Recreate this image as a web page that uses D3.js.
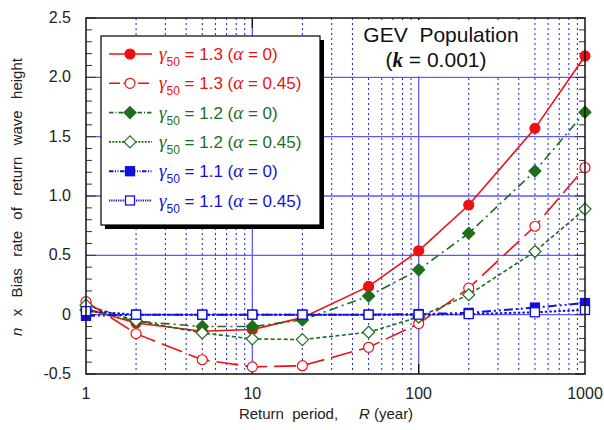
<!DOCTYPE html>
<html>
<head>
<meta charset="utf-8">
<script src="https://cdn.jsdelivr.net/npm/d3@7"></script>
<style>
  body { margin: 0; background: #fff; }
  text { font-family: "Liberation Sans", Arial, sans-serif; }
</style>
</head>
<body>
<div id="chart"></div>
<script>
// --- data ---
const returnPeriods = [1, 2, 5, 10, 20, 50, 100, 200, 500, 1000];
const g13a0   = [0.05, -0.07, -0.14, -0.125, -0.025, 0.238, 0.538, 0.924, 1.57, 2.18];
const g13a045 = [0.11, -0.16, -0.38, -0.44, -0.43, -0.275, -0.075, 0.224, 0.745, 1.24];
const g12a0   = [0.04, -0.055, -0.10, -0.10, -0.045, 0.157, 0.378, 0.686, 1.21, 1.706];
const g12a045 = [0.08, -0.05, -0.154, -0.204, -0.21, -0.148, -0.02, 0.168, 0.532, 0.89];
const g11a0   = [-0.01, 0.0, 0.0, 0.0, 0.0, 0.0, 0.005, 0.015, 0.06, 0.098];
const g11a045 = [0.03, 0.0, 0.0, 0.0, 0.0, 0.0, 0.0, 0.005, 0.02, 0.04];
const gammaLabels = ["1.3", "1.3", "1.2", "1.2", "1.1", "1.1"];
const alphaLabels = ["0", "0.45", "0", "0.45", "0", "0.45"];
const yTicks = [-0.5, 0, 0.5, 1.0, 1.5, 2.0, 2.5];
const yTickLabels = ["-0.5", "0", "0.5", "1.0", "1.5", "2.0", "2.5"];
const xTicks = [1, 10, 100, 1000];

const red = "#ee1111", green = "#1e6e1e", blue = "#1111dd";
const series = [
  { values: g13a0,   color: red,   dash: null,            marker: "circle",  filled: true },
  { values: g13a045, color: red,   dash: "22,7",          marker: "circle",  filled: false },
  { values: g12a0,   color: green, dash: "9,4,2,4",       marker: "diamond", filled: true },
  { values: g12a045, color: green, dash: "4,2.5",         marker: "diamond", filled: false },
  { values: g11a0,   color: blue,  dash: "9,3,2,3,2,3",   marker: "square",  filled: true },
  { values: g11a045, color: blue,  dash: "2.5,2",         marker: "square",  filled: false }
];

const W = 604, H = 430;
const margin = { top: 18, right: 19, bottom: 56, left: 86 };
const width = W - margin.left - margin.right;
const height = H - margin.top - margin.bottom;

const svg = d3.select("#chart").append("svg")
  .attr("width", W).attr("height", H);
const g = svg.append("g")
  .attr("transform", `translate(${margin.left},${margin.top})`);

const x = d3.scaleLog().domain([1, 1000]).range([0, width]);
const y = d3.scaleLinear().domain([-0.5, 2.5]).range([height, 0]);

// minor vertical grid (dotted)
const minorX = [];
[1, 10, 100].forEach(d => { for (let i = 2; i <= 9; i++) minorX.push(d * i); });
g.selectAll(".vminor").data(minorX).join("line")
  .attr("x1", d => x(d)).attr("x2", d => x(d))
  .attr("y1", 0).attr("y2", height)
  .attr("stroke", "#1a1aff").attr("stroke-width", 1)
  .attr("stroke-dasharray", "2,3");

// major vertical grid
g.selectAll(".vmajor").data([10, 100]).join("line")
  .attr("x1", d => x(d)).attr("x2", d => x(d))
  .attr("y1", 0).attr("y2", height)
  .attr("stroke", "#5a5aff").attr("stroke-width", 1.3);

// horizontal grid
g.selectAll(".hmajor").data([0, 0.5, 1.0, 1.5, 2.0]).join("line")
  .attr("x1", 0).attr("x2", width)
  .attr("y1", d => y(d)).attr("y2", d => y(d))
  .attr("stroke", "#5a5aff").attr("stroke-width", 1.3);

// white box behind the title
const title = svg.append("g");
title.append("rect")
  .attr("x", 355).attr("y", 20)
  .attr("width", 175).attr("height", y(2.0) + margin.top - 21)
  .attr("fill", "#fff");
title.append("text")
  .attr("x", 441).attr("y", 42)
  .attr("text-anchor", "middle")
  .attr("font-size", 21)
  .attr("fill", "#111")
  .text("GEV\u00a0\u00a0Population");
const t2 = title.append("text")
  .attr("x", 436).attr("y", 67)
  .attr("text-anchor", "middle")
  .attr("font-size", 21)
  .attr("fill", "#111");
t2.append("tspan").text("(");
t2.append("tspan").attr("font-weight", "bold").attr("font-style", "italic")
  .attr("font-family", "Liberation Serif, serif").text("k");
t2.append("tspan").text(" = 0.001)");

// minor ticks on y (inside, both sides)
const yMinor = d3.range(-5, 26).map(i => i / 10);
g.selectAll(".ytickL").data(yMinor).join("line")
  .attr("x1", 0).attr("x2", d => (Math.round(d * 10) % 5 === 0 ? 10 : 6))
  .attr("y1", d => y(d)).attr("y2", d => y(d))
  .attr("stroke", "#333").attr("stroke-width", 1);
g.selectAll(".ytickR").data(yMinor).join("line")
  .attr("x1", width).attr("x2", d => width - (Math.round(d * 10) % 5 === 0 ? 10 : 6))
  .attr("y1", d => y(d)).attr("y2", d => y(d))
  .attr("stroke", "#333").attr("stroke-width", 1);
// major x ticks
[10, 100].forEach(d => {
  g.append("line").attr("x1", x(d)).attr("x2", x(d)).attr("y1", height).attr("y2", height - 10)
    .attr("stroke", "#111").attr("stroke-width", 1.3);
  g.append("line").attr("x1", x(d)).attr("x2", x(d)).attr("y1", 0).attr("y2", 10)
    .attr("stroke", "#111").attr("stroke-width", 1.3);
});

// series lines
const line = d3.line()
  .x((d, i) => x(returnPeriods[i]))
  .y(d => y(d));

g.append("defs").append("clipPath").attr("id", "clip")
  .append("rect").attr("width", width).attr("height", height);

const plot = g.append("g").attr("clip-path", "url(#clip)");
series.forEach(s => {
  plot.append("path")
    .attr("d", line(s.values))
    .attr("fill", "none")
    .attr("stroke", s.color)
    .attr("stroke-width", s.dash && s.color === blue ? 2 : 1.6)
    .attr("stroke-dasharray", s.dash);
});

function drawMarker(sel, s, cx, cy) {
  const fill = s.filled ? s.color : "#fff";
  if (s.marker === "circle") {
    sel.append("circle").attr("cx", cx).attr("cy", cy).attr("r", 5)
      .attr("fill", fill).attr("stroke", s.color).attr("stroke-width", 1.2);
  } else if (s.marker === "diamond") {
    const r = 6;
    sel.append("path")
      .attr("d", `M${cx},${cy - r}L${cx + r},${cy}L${cx},${cy + r}L${cx - r},${cy}Z`)
      .attr("fill", fill).attr("stroke", s.color).attr("stroke-width", 1.2);
  } else {
    const r = 4.5;
    sel.append("rect").attr("x", cx - r).attr("y", cy - r)
      .attr("width", 2 * r).attr("height", 2 * r)
      .attr("fill", fill).attr("stroke", s.color).attr("stroke-width", 1.3);
  }
}

const markers = g.append("g");
series.forEach(s => {
  s.values.forEach((v, i) => drawMarker(markers, s, x(returnPeriods[i]), y(v)));
});

// frame
g.append("rect").attr("width", width).attr("height", height)
  .attr("fill", "none").attr("stroke", "#111").attr("stroke-width", 1.5);

// tick labels
g.selectAll(".ylab").data(yTicks).join("text")
  .attr("x", -15).attr("y", (d, i) => y(d) + 5)
  .attr("text-anchor", "end")
  .attr("font-size", 16).attr("fill", "#222")
  .text((d, i) => yTickLabels[i]);
g.selectAll(".xlab").data(xTicks).join("text")
  .attr("x", d => x(d)).attr("y", height + 25)
  .attr("text-anchor", "middle")
  .attr("font-size", 16).attr("fill", "#222")
  .text(d => d);

// axis titles
const xt = svg.append("text")
  .attr("x", 326).attr("y", 419)
  .attr("text-anchor", "middle").attr("font-size", 15).attr("fill", "#222");
xt.append("tspan").text("Return\u00a0\u00a0period,\u00a0\u00a0\u00a0\u00a0\u00a0");
xt.append("tspan").attr("font-style", "italic").text("R");
xt.append("tspan").text(" (year)");

const yt = svg.append("text")
  .attr("transform", `translate(22,${margin.top + 179}) rotate(-90)`)
  .attr("text-anchor", "middle").attr("font-size", 15).attr("fill", "#222")
  .attr("word-spacing", 1.5);
yt.append("tspan").attr("font-style", "italic").text("n");
yt.append("tspan").text("\u00a0\u00a0x\u00a0\u00a0Bias\u00a0\u00a0rate\u00a0\u00a0of\u00a0\u00a0return\u00a0\u00a0wave\u00a0\u00a0height");

// legend
const lg = svg.append("g").attr("transform", "translate(101,36)");
lg.append("rect").attr("x", 4).attr("y", 4).attr("width", 219).attr("height", 189).attr("fill", "#000");
lg.append("rect").attr("x", 0).attr("y", 0).attr("width", 219).attr("height", 189)
  .attr("fill", "#fff").attr("stroke", "#000").attr("stroke-width", 1.2);
series.forEach((s, i) => {
  const cy = 18 + i * 29.3;
  lg.append("line").attr("x1", 8).attr("x2", 51).attr("y1", cy).attr("y2", cy)
    .attr("stroke", s.color).attr("stroke-width", s.dash && s.color === blue ? 2 : 1.6)
    .attr("stroke-dasharray", s.dash ? s.dash.split(",").map(v => +v * 0.5).join(",") : null);
  drawMarker(lg, s, 29, cy);
  const t = lg.append("text").attr("x", 58).attr("y", cy + 6)
    .attr("font-size", 17).attr("fill", s.color);
  t.append("tspan").attr("font-style", "italic").attr("font-family", "Liberation Serif, serif")
    .attr("font-size", 19).text("\u03b3");
  t.append("tspan").attr("font-size", 12).attr("dy", 6).text("50");
  t.append("tspan").attr("dy", -6).text(` = ${gammaLabels[i]} (`);
  t.append("tspan").attr("font-style", "italic").attr("font-family", "Liberation Serif, serif")
    .attr("font-size", 19).text("\u03b1");
  t.append("tspan").text(` = ${alphaLabels[i]})`);
});
</script>
</body>
</html>
